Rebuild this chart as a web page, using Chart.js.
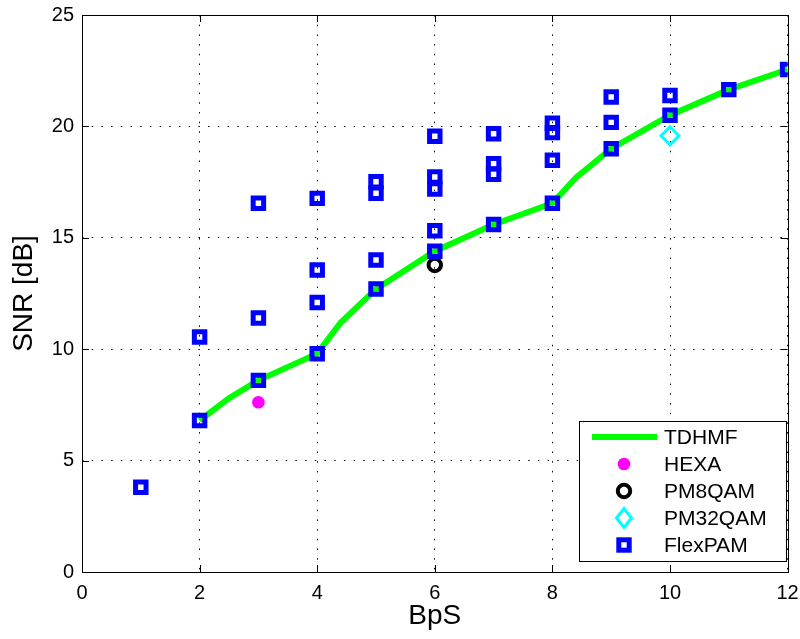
<!DOCTYPE html>
<html>
<head>
<meta charset="utf-8">
<script src="https://cdn.jsdelivr.net/npm/chart.js@4/dist/chart.umd.min.js"></script>
<style>
  html, body { margin: 0; padding: 0; background: #fff; }
  canvas { display: block; }
</style>
</head>
<body>
<canvas id="snr-chart" width="800" height="639"></canvas>
<script>
// values
const xTicks = [0, 2, 4, 6, 8, 10, 12];
const yTicks = [0, 5, 10, 15, 20, 25];

const tdhmfX = [2, 2.5, 3, 4, 4.4, 5, 6, 7, 8, 8.4, 9, 10, 11, 12];
const tdhmfY = [6.8, 7.8, 8.6, 9.8, 11.2, 12.7, 14.4, 15.6, 16.55, 17.7, 19.0, 20.5, 21.65, 22.55];

const hexaX = [3];
const hexaY = [7.62];

const pm8qamX = [6];
const pm8qamY = [13.78];

const pm32qamX = [10];
const pm32qamY = [19.58];

const flexX = [1, 2, 2, 3, 3, 3, 4, 4, 4, 4, 5, 5, 5, 5, 6, 6, 6, 6, 6, 7, 7, 7, 7, 8, 8, 8, 8, 9, 9, 9, 10, 10, 11, 12];
const flexY = [3.8, 6.8, 10.55, 8.6, 11.4, 16.55, 9.8, 12.1, 13.55, 16.77, 12.7, 14.0, 17.0, 17.52,
  14.4, 15.32, 17.19, 17.73, 19.56, 15.6, 17.85, 18.33, 19.67, 16.55, 18.48, 19.72, 20.14,
  19.0, 20.18, 21.32, 20.5, 21.39, 21.65, 22.55];

function pts(xs, ys) {
  return xs.map((x, i) => ({ x: x, y: ys[i] }));
}

const FONT = "'Liberation Sans', Arial, Helvetica, sans-serif";

// box round the plot, inward ticks, legend inside the axes
const matlabAxes = {
  id: "matlabAxes",
  afterDraw(chart) {
    const ctx = chart.ctx;
    const a = chart.chartArea;
    const sx = chart.scales.x;
    const sy = chart.scales.y;
    ctx.save();
    ctx.strokeStyle = "#000";
    ctx.lineWidth = 1;
    ctx.beginPath();
    xTicks.forEach(function (t) {
      const px = Math.round(sx.getPixelForValue(t)) + 0.5;
      ctx.moveTo(px, a.bottom); ctx.lineTo(px, a.bottom - 7);
      ctx.moveTo(px, a.top); ctx.lineTo(px, a.top + 7);
    });
    yTicks.forEach(function (t) {
      const py = Math.round(sy.getPixelForValue(t)) + 0.5;
      ctx.moveTo(a.left, py); ctx.lineTo(a.left + 7, py);
      ctx.moveTo(a.right, py); ctx.lineTo(a.right - 7, py);
    });
    ctx.stroke();
    ctx.strokeRect(Math.round(a.left) + 0.5, Math.round(a.top) + 0.5,
      Math.round(a.right - a.left), Math.round(a.bottom - a.top));

    // legend
    const lx = 579, ly = 421, lw = 207, lh = 140;
    ctx.fillStyle = "#fff";
    ctx.fillRect(lx, ly, lw, lh);
    ctx.strokeRect(lx + 0.5, ly + 0.5, lw, lh);
    const rows = [437, 464, 491, 518, 545];
    const names = chart.data.datasets.map(d => d.label);
    const mx = 624;
    ctx.font = "21px " + FONT;
    ctx.textBaseline = "middle";
    names.forEach(function (n, i) {
      ctx.fillStyle = "#000";
      ctx.fillText(n, 664, rows[i] + 1);
    });
    // TDHMF line sample
    ctx.strokeStyle = "#00ff00";
    ctx.lineWidth = 6;
    ctx.beginPath();
    ctx.moveTo(592, rows[0]); ctx.lineTo(657, rows[0]);
    ctx.stroke();
    // HEXA
    ctx.fillStyle = "#ff00ff";
    ctx.beginPath();
    ctx.arc(mx, rows[1], 6.3, 0, Math.PI * 2);
    ctx.fill();
    // PM8QAM
    ctx.strokeStyle = "#000";
    ctx.lineWidth = 4;
    ctx.beginPath();
    ctx.arc(mx, rows[2], 6.2, 0, Math.PI * 2);
    ctx.stroke();
    // PM32QAM
    ctx.strokeStyle = "#00ffff";
    ctx.lineWidth = 3;
    ctx.beginPath();
    ctx.moveTo(mx, rows[3] - 9.5);
    ctx.lineTo(mx + 7.5, rows[3]);
    ctx.lineTo(mx, rows[3] + 9.5);
    ctx.lineTo(mx - 7.5, rows[3]);
    ctx.closePath();
    ctx.stroke();
    // FlexPAM
    ctx.strokeStyle = "#0000ff";
    ctx.lineWidth = 5;
    ctx.strokeRect(mx - 5.2, rows[4] - 5.2, 10.4, 10.4);
    ctx.restore();
  }
};

const ctx = document.getElementById("snr-chart").getContext("2d");
const snrChart = new Chart(ctx, {
  type: "scatter",
  data: {
    datasets: [
      {
        label: "TDHMF",
        data: pts(tdhmfX, tdhmfY),
        showLine: true,
        borderColor: "#00ff00",
        borderWidth: 6,
        pointRadius: 0,
        tension: 0,
        order: 5,
      },
      {
        label: "HEXA",
        data: pts(hexaX, hexaY),
        pointStyle: "circle",
        pointRadius: 6.3,
        backgroundColor: "#ff00ff",
        borderWidth: 0,
        order: 4,
      },
      {
        label: "PM8QAM",
        data: pts(pm8qamX, pm8qamY),
        pointStyle: "circle",
        pointRadius: 6.2,
        backgroundColor: "rgba(0,0,0,0)",
        borderColor: "#000",
        borderWidth: 4,
        order: 3,
      },
      {
        label: "PM32QAM",
        data: pts(pm32qamX, pm32qamY),
        pointStyle: "rectRot",
        pointRadius: 9,
        backgroundColor: "rgba(0,0,0,0)",
        borderColor: "#00ffff",
        borderWidth: 3,
        order: 2,
      },
      {
        label: "FlexPAM",
        data: pts(flexX, flexY),
        pointStyle: "rect",
        pointRadius: 7.4,
        backgroundColor: "rgba(0,0,0,0)",
        borderColor: "#0000ff",
        borderWidth: 5,
        order: 1,
      },
    ],
  },
  options: {
    responsive: false,
    animation: false,
    events: [],
    layout: { padding: { top: 15, right: 12, left: 0, bottom: 0 } },
    plugins: {
      legend: { display: false },
      tooltip: { enabled: false },
    },
    scales: {
      x: {
        type: "linear",
        min: 0,
        max: 12,
        afterFit: function (s) {
          s.height = 67;
          s.paddingLeft = 0;
          s.paddingRight = 0;
        },
        afterBuildTicks: function (s) { s.ticks = xTicks.map(v => ({ value: v })); },
        ticks: {
          color: "#000",
          font: { size: 20, family: FONT },
          padding: 9,
          maxRotation: 0,
        },
        grid: { color: "#000", lineWidth: 1, drawTicks: false },
        border: { display: false, dash: [1.5, 8.2] },
        title: {
          display: true,
          text: "BpS",
          color: "#000",
          font: { size: 28, family: FONT },
          padding: { top: 0, bottom: 5.5 },
        },
      },
      y: {
        type: "linear",
        min: 0,
        max: 25,
        afterFit: function (s) {
          s.width = 82;
          s.paddingTop = 0;
          s.paddingBottom = 0;
        },
        afterBuildTicks: function (s) { s.ticks = yTicks.map(v => ({ value: v })); },
        ticks: {
          color: "#000",
          font: { size: 20, family: FONT },
          padding: 8,
        },
        grid: { color: "#000", lineWidth: 1, drawTicks: false },
        border: { display: false, dash: [1.5, 8.2] },
        title: {
          display: true,
          text: "SNR [dB]",
          color: "#000",
          font: { size: 28, family: FONT },
          padding: { top: 7, bottom: 0 },
        },
      },
    },
  },
  plugins: [matlabAxes],
});
</script>
</body>
</html>
